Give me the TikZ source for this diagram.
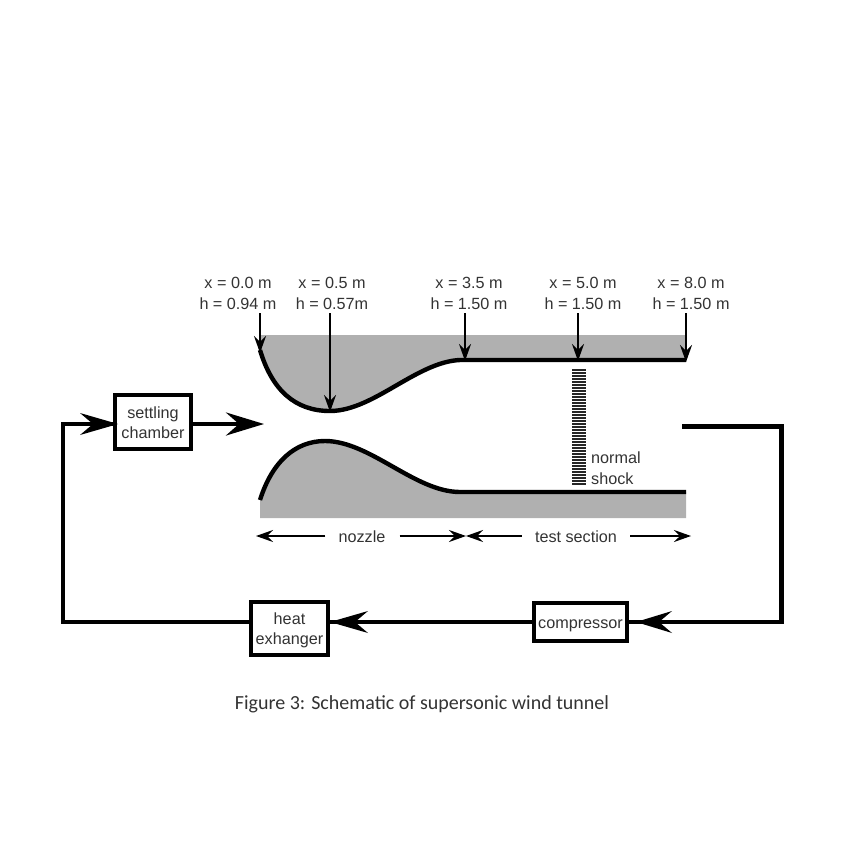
\documentclass[tikz,border=0pt]{standalone}
\usepackage{fontspec}
\setmainfont{Liberation Sans}
\newfontfamily\capfont{Carlito}
\usetikzlibrary{arrows.meta}
\definecolor{txt}{HTML}{333333}
\definecolor{wallgrey}{HTML}{B0B0B0}
\tikzset{
  x=1pt,y=-1pt,
  lab/.style={font=\fontsize{16.2}{20.5}\selectfont,text=txt,align=center,inner sep=0pt},
  boxnode/.style={draw=black,line width=4.3pt,fill=white,font=\fontsize{16.2}{20.5}\selectfont,text=txt,align=center,inner sep=0pt},
  wall/.style={line width=4.4pt,draw=black},
  flow/.style={line width=4.3pt,draw=black},
  bighead/.style={-{Stealth[length=38pt,width=23pt,inset=13pt]}},
  probe/.style={line width=1.7pt,draw=black,-{Stealth[length=17pt,width=12pt,inset=6pt]}},
  span/.style={line width=1.6pt,draw=black,-{Stealth[length=17pt,width=12pt,inset=6pt]}},
}
\begin{document}
\begin{tikzpicture}
\useasboundingbox (0,0) rectangle (845,845);
% grey blocks
\fill[wallgrey] (260,335) -- (686,335) -- (686,360) -- (465,360)
  .. controls (420,358) and (375,411) .. (330,411)
  .. controls (295,411) and (272,390) .. (260,350) -- cycle;
\fill[wallgrey] (260,518) -- (686,518) -- (686,492) -- (460,492)
  .. controls (415,492) and (370,441) .. (325,441)
  .. controls (295,441) and (272,462) .. (260,500) -- cycle;
% walls
\coordinate (w0) at (260,350);
\coordinate (w1) at (330,411);
\coordinate (w2) at (465,360);
\coordinate (w3) at (578,360);
\coordinate (w4) at (686,360);
\draw[wall] (w0) .. controls (272,390) and (295,411) .. (w1)
  .. controls (375,411) and (420,358) .. (w2) -- (w4);
\draw[wall] (260,500) .. controls (272,462) and (295,441) .. (325,441)
  .. controls (370,441) and (415,492) .. (460,492) -- (686,492);
% shock
\foreach \i in {0,...,38}
  \draw[line width=1.3pt,draw=black!85] (572,{370+\i*3.0}) -- (586,{370+\i*3.0});
\node[lab,anchor=west,align=left] (shocklabel) at (591,468) {normal\\shock};
% station labels
\node[lab] (s0) at (238,293.5) {x = 0.0 m\\h = 0.94 m};
\node[lab] (s1) at (332,293.5) {x = 0.5 m\\h = 0.57m};
\node[lab] (s2) at (469,293.5) {x = 3.5 m\\h = 1.50 m};
\node[lab] (s3) at (583,293.5) {x = 5.0 m\\h = 1.50 m};
\node[lab] (s4) at (691,293.5) {x = 8.0 m\\h = 1.50 m};
\coordinate (t0) at (260,313);
\coordinate (t1) at (330,313);
\coordinate (t2) at (465,313);
\coordinate (t3) at (578,313);
\coordinate (t4) at (686,313);
\draw[probe] (t0) -- (260,353);
\draw[probe] (t1) -- (330,412);
\draw[probe] (t2) -- (465,361);
\draw[probe] (t3) -- (578,361);
\draw[probe] (t4) -- (686,362);
% spans
\node[lab] (nozzle) at (362,537) {nozzle};
\node[lab] (test) at (576,537) {test section};
\coordinate (sa) at (256,536);
\coordinate (sb) at (466,536);
\coordinate (sc) at (691,536);
\draw[span] (nozzle.west) ++(-13,-1) -- (sa);
\draw[span] (nozzle.east) ++(14,-1) -- (sb);
\draw[span] (test.west) ++(-13,-1) -- (sb);
\draw[span] (test.east) ++(13,-1) -- (sc);
% boxes
\node[boxnode,minimum width=76pt,minimum height=54pt] (settling) at (153,422) {\rule{0pt}{13pt}settling\\chamber};
\node[boxnode,minimum width=77pt,minimum height=53pt] (heat) at (289.5,628.5) {\rule{0pt}{15pt}heat\\exhanger};
\node[boxnode,minimum width=93pt,minimum height=38pt] (comp) at (580.5,622) {\rule{0pt}{17pt}compressor};
% loop
\coordinate (ductend) at (682,426.5);
\coordinate (cornerR) at (781.5,426.5);
\coordinate (cornerRb) at (781.5,622);
\coordinate (cornerLb) at (63,622);
\coordinate (cornerLt) at (63,424);
\coordinate (outtip) at (264,424);
\draw[flow,miter limit=10] (ductend) -- (cornerR) -- (cornerRb) -- (comp.east |- cornerRb);
\draw[flow,miter limit=10] (heat.west |- cornerLb) -- (cornerLb) -- (cornerLt) -- (settling.west |- cornerLt);
\draw[flow] (comp.west |- cornerLb) -- (heat.east |- cornerLb);
\draw[flow,bighead] (settling.east |- outtip) -- (outtip);
\path[fill=black] (118,424) -- (80,413) -- (93,424) -- (80,435) -- cycle;
\path[fill=black] (636,622) -- (672,611) -- (659,622) -- (672,633) -- cycle;
\path[fill=black] (330,622) -- (368,611) -- (355,622) -- (368,633) -- cycle;
% caption
\node[font=\capfont\fontsize{20}{24}\selectfont,text=txt,inner sep=0pt] (caption) at (422,704) {Figure 3: Schematic of supersonic wind tunnel};
\end{tikzpicture}
\end{document}
